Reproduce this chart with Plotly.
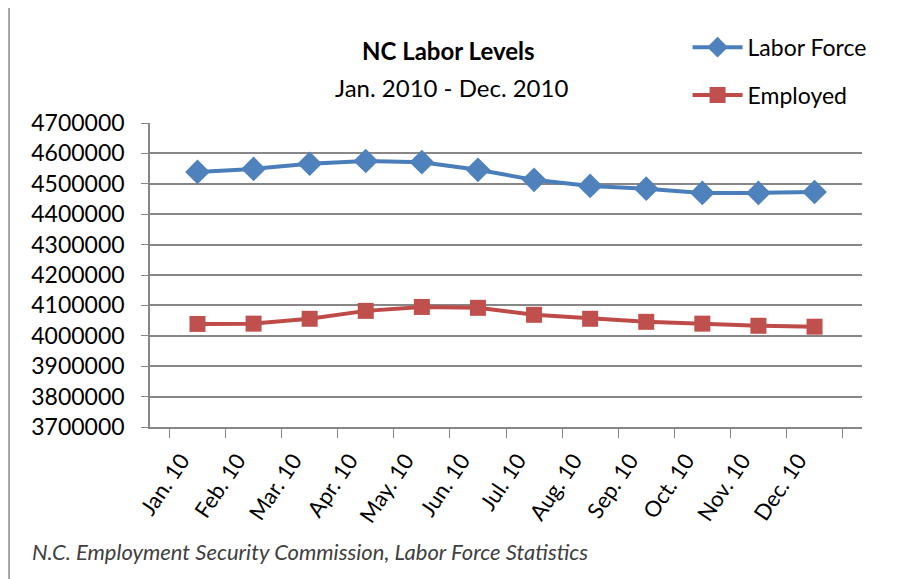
import plotly.graph_objects as go

months = ['Jan. 10', 'Feb. 10', 'Mar. 10', 'Apr. 10', 'May. 10', 'Jun. 10',
          'Jul. 10', 'Aug. 10', 'Sep. 10', 'Oct. 10', 'Nov. 10', 'Dec. 10']
labor_force = [4539000, 4549000, 4566000, 4575000, 4571000, 4546000,
               4513000, 4493000, 4484000, 4470000, 4470000, 4473000]
employed = [4039000, 4040000, 4056000, 4082000, 4095000, 4092000,
            4069000, 4056000, 4046000, 4040000, 4033000, 4030000]
y_ticks = [3700000, 3800000, 3900000, 4000000, 4100000, 4200000,
           4300000, 4400000, 4500000, 4600000, 4700000]

FONT = 'Lato, sans-serif'

fig = go.Figure()

fig.add_trace(go.Scatter(
    x=months, y=labor_force, mode='lines+markers', name='Labor Force',
    legendgroup='a',
    line=dict(color='#4A7EBB', width=4),
    marker=dict(symbol='diamond', size=19, color='#4F81BD'),
))
fig.add_trace(go.Scatter(
    x=months, y=employed, mode='lines+markers', name='Employed',
    legendgroup='b',
    line=dict(color='#BE4B48', width=4),
    marker=dict(symbol='square', size=16, color='#C0504D'),
))

# outer chart border (page has an 8px body margin, figure is 905x571)
fig.add_shape(type='rect', xref='paper', yref='paper',
              x0=-0.198, x1=1.067, y0=-0.56, y1=1.382,
              line=dict(color='#8C8C8C', width=1.5), layer='below')

fig.add_annotation(text='<b>NC Labor Levels</b>', xref='paper', yref='paper',
                   x=0.419, y=1.24, yanchor='middle', showarrow=False,
                   font=dict(size=24, color='black', family=FONT))
fig.add_annotation(text='Jan. 2010 - Dec. 2010', xref='paper', yref='paper',
                   x=0.423, y=1.118, yanchor='middle', showarrow=False,
                   font=dict(size=24, color='black', family=FONT))
fig.add_annotation(text='<i>N.C. Employment Security Commission, Labor Force Statistics</i>',
                   xref='paper', yref='paper', x=-0.168, y=-0.408,
                   xanchor='left', yanchor='middle', showarrow=False,
                   font=dict(size=22, color='#404040', family=FONT))

fig.update_layout(
    width=905, height=571,
    margin=dict(l=142, r=51, t=115, b=152),
    paper_bgcolor='white', plot_bgcolor='white',
    font=dict(family=FONT, color='black'),
    showlegend=True,
    legend=dict(x=0.755, y=1.32, xanchor='left', yanchor='top',
                traceorder='grouped', tracegroupgap=15,
                font=dict(size=23, family=FONT), itemwidth=50,
                bgcolor='rgba(0,0,0,0)'),
    xaxis=dict(showgrid=False, showline=True, linecolor='#878787', linewidth=1.5,
               ticks='outside', tickson='boundaries', ticklen=9, tickcolor='#878787',
               tickangle=-56, tickfont=dict(size=22, family=FONT),
               ticklabelshift=-16, ticklabelstandoff=10, automargin=False),
    yaxis=dict(range=[3700000, 4700000], tickvals=y_ticks,
               ticktext=[str(v) for v in y_ticks],
               showgrid=True, gridcolor='#878787', gridwidth=1.5,
               showline=True, linecolor='#878787', linewidth=1.5,
               ticks='outside', ticklen=7, tickcolor='#878787',
               ticklabelstandoff=12,
               zeroline=False, tickfont=dict(size=23, family=FONT), automargin=False),
)

fig.write_html('out.html')
